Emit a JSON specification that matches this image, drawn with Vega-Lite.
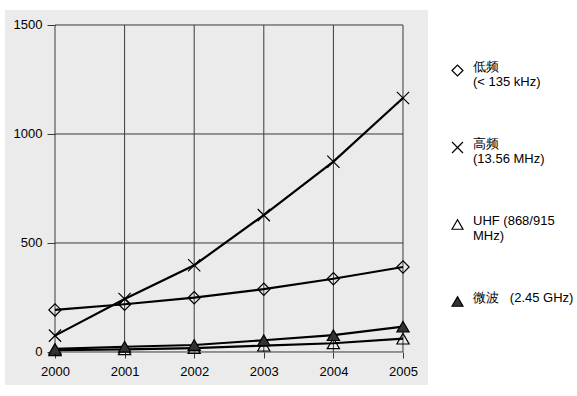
{
  "$schema": "https://vega.github.io/schema/vega-lite/v6.json",
  "width": 423,
  "height": 375,
  "autosize": "none",
  "padding": {"left": 5, "top": 10, "right": 149, "bottom": 11},
  "background": "white",
  "config": {
    "font": "Liberation Sans",
    "view": {"fill": "#ebebeb", "stroke": null}
  },
  "datasets": {
    "series": [
      {"year": 2000, "series": "低频", "value": 193},
      {"year": 2001, "series": "低频", "value": 219},
      {"year": 2002, "series": "低频", "value": 249},
      {"year": 2003, "series": "低频", "value": 288},
      {"year": 2004, "series": "低频", "value": 336},
      {"year": 2005, "series": "低频", "value": 390},
      {"year": 2000, "series": "高频", "value": 75},
      {"year": 2001, "series": "高频", "value": 243},
      {"year": 2002, "series": "高频", "value": 398},
      {"year": 2003, "series": "高频", "value": 628},
      {"year": 2004, "series": "高频", "value": 873},
      {"year": 2005, "series": "高频", "value": 1165},
      {"year": 2000, "series": "UHF", "value": 8},
      {"year": 2001, "series": "UHF", "value": 12},
      {"year": 2002, "series": "UHF", "value": 18},
      {"year": 2003, "series": "UHF", "value": 29},
      {"year": 2004, "series": "UHF", "value": 40},
      {"year": 2005, "series": "UHF", "value": 61},
      {"year": 2000, "series": "微波", "value": 14},
      {"year": 2001, "series": "微波", "value": 24},
      {"year": 2002, "series": "微波", "value": 32},
      {"year": 2003, "series": "微波", "value": 54},
      {"year": 2004, "series": "微波", "value": 77},
      {"year": 2005, "series": "微波", "value": 116}
    ],
    "vgrid": [{"year": 2000}, {"year": 2001}, {"year": 2002}, {"year": 2003}, {"year": 2004}, {"year": 2005}],
    "hgrid": [{"value": 0}, {"value": 500}, {"value": 1000}, {"value": 1500}]
  },
  "layer": [
    {
      "data": {"name": "vgrid"},
      "mark": {"type": "rule", "color": "#3a3a3a", "strokeWidth": 1},
      "encoding": {
        "x": {"field": "year", "type": "quantitative", "scale": {"domain": [1999.2816, 2005.3592], "nice": false, "zero": false},
          "axis": {"values": [2000, 2001, 2002, 2003, 2004, 2005], "format": "d", "offset": -33, "domain": false, "grid": false, "tickSize": 6, "tickColor": "#3a3a3a", "labelFontSize": 13, "labelColor": "black", "labelPadding": 7, "title": null}},
        "y": {"datum": 0, "type": "quantitative", "scale": {"domain": [-151.4, 1568.8], "nice": false, "zero": false},
          "axis": {"values": [0, 500, 1000, 1500], "format": "d", "offset": -50, "domain": false, "grid": false, "tickSize": 8, "tickColor": "#3a3a3a", "labelFontSize": 13, "labelColor": "black", "labelPadding": 5, "title": null}},
        "y2": {"datum": 1500}
      }
    },
    {
      "data": {"name": "hgrid"},
      "mark": {"type": "rule", "color": "#3a3a3a", "strokeWidth": 1},
      "encoding": {
        "y": {"field": "value", "type": "quantitative"},
        "x": {"datum": 2000, "type": "quantitative"},
        "x2": {"datum": 2005}
      }
    },
    {
      "data": {"name": "series"},
      "mark": {"type": "line", "color": "black", "strokeWidth": 2.2},
      "encoding": {
        "x": {"field": "year", "type": "quantitative"},
        "y": {"field": "value", "type": "quantitative"},
        "detail": {"field": "series"}
      }
    },
    {
      "data": {"name": "series"},
      "mark": {"type": "point", "strokeWidth": 1.2, "size": 150, "opacity": 1},
      "encoding": {
        "x": {"field": "year", "type": "quantitative"},
        "y": {"field": "value", "type": "quantitative"},
        "shape": {
          "field": "series", "type": "nominal",
          "scale": {"domain": ["低频", "高频", "UHF", "微波"], "range": ["diamond", "M-1,-1L1,1M-1,1L1,-1", "triangle-up", "triangle-up"]},
          "legend": {
            "title": null, "orient": "none", "legendX": 446, "legendY": 54, "padding": 0,
            "rowPadding": 48, "labelFontSize": 13, "labelColor": "black", "labelOffset": 9, "labelLimit": 400,
            "labelBaseline": "alphabetic",
            "symbolSize": 120, "symbolStrokeWidth": 1.2,
            "labelExpr": "datum.label == '低频' ? ['低频', '(< 135 kHz)'] : datum.label == '高频' ? ['高频', '(13.56 MHz)'] : datum.label == 'UHF' ? ['UHF (868/915', 'MHz)'] : '微波\u00a0\u00a0 (2.45 GHz)'"
          }
        },
        "fill": {
          "field": "series", "type": "nominal",
          "scale": {"domain": ["低频", "高频", "UHF", "微波"], "range": ["transparent", "transparent", "transparent", "#333333"]}
        },
        "stroke": {
          "field": "series", "type": "nominal",
          "scale": {"domain": ["低频", "高频", "UHF", "微波"], "range": ["black", "black", "black", "black"]}
        }
      }
    }
  ]
}
